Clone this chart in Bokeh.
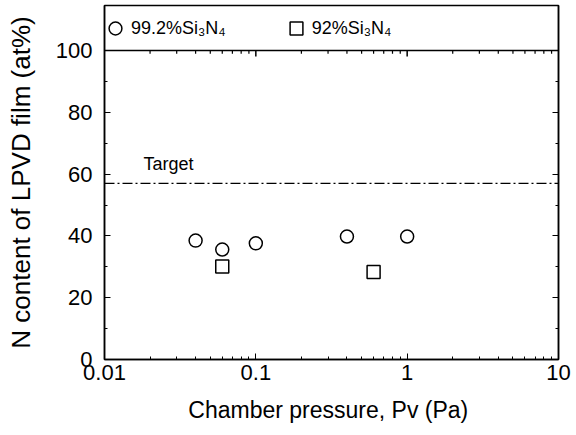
from bokeh.plotting import figure
from bokeh.models import (LinearAxis, FixedTicker, Span, Label,
                          Legend, LegendItem, Range1d, CustomJSTickFormatter)
from bokeh.embed import file_html
from bokeh.resources import INLINE

# N content of the deposited film versus chamber pressure
pressure_992 = [0.04, 0.06, 0.1, 0.4, 1.0]       # Pa, 99.2% Si3N4 target
n_content_992 = [38.5, 35.6, 37.6, 39.8, 39.8]    # at%
pressure_92 = [0.06, 0.6]                         # Pa, 92% Si3N4 target
n_content_92 = [30.1, 28.3]                       # at%
target_n = 57                                     # at%, stoichiometric target

y_major = [0, 20, 40, 60, 80, 100]
y_minor = [10, 30, 50, 70, 90]
x_major = [0.01, 0.1, 1, 10]
frame_top = 100                                   # legend sits above this line

FONT = "Liberation Sans"

p = figure(width=576, height=435, x_axis_type="log",
           x_range=Range1d(0.01, 10), y_range=Range1d(0, 114.6),
           output_backend="svg", toolbar_location=None,
           min_border_left=104, min_border_right=18,
           min_border_top=5, min_border_bottom=76)
p.grid.visible = False
p.background_fill_color = "white"
p.border_fill_color = "white"
p.outline_line_color = "black"
p.outline_line_width = 1.5

# bottom axis
xa = p.xaxis[0]
xa.ticker = FixedTicker(ticks=x_major,
                        minor_ticks=[m * d for d in (0.01, 0.1, 1) for m in range(2, 10)])
xa.major_label_overrides = {0.01: "0.01", 0.1: "0.1", 1: "1", 10: "10"}
xa.axis_label = "Chamber pressure, Pv  (Pa)"
xa.axis_label_text_font = FONT
xa.axis_label_text_font_size = "23px"
xa.axis_label_text_font_style = "normal"
xa.axis_label_text_color = "black"
xa.axis_label_standoff = 14
xa.major_tick_in = 6
xa.major_tick_out = 0
xa.minor_tick_in = 3
xa.minor_tick_out = 0
xa.axis_line_width = 1.5
xa.major_label_text_font = FONT
xa.major_label_text_font_size = "22px"
xa.major_label_text_color = "black"
xa.major_label_standoff = 5

# left axis
ya = p.yaxis[0]
ya.ticker = FixedTicker(ticks=y_major, minor_ticks=y_minor)
ya.axis_label = "N content of LPVD film (at%)"
ya.axis_label_text_font = FONT
ya.axis_label_text_font_size = "26px"
ya.axis_label_text_font_style = "normal"
ya.axis_label_text_color = "black"
ya.axis_label_standoff = 17
ya.major_tick_in = 6
ya.major_tick_out = 0
ya.minor_tick_in = 3
ya.minor_tick_out = 0
ya.axis_line_width = 1.5
ya.major_label_text_font = FONT
ya.major_label_text_font_size = "22px"
ya.major_label_text_color = "black"
ya.major_label_standoff = 12

# right axis: ticks only
ra = LinearAxis(ticker=FixedTicker(ticks=y_major, minor_ticks=y_minor),
                formatter=CustomJSTickFormatter(code="return ''"))
ra.major_tick_in = 6
ra.major_tick_out = 0
ra.minor_tick_in = 3
ra.minor_tick_out = 0
ra.axis_line_width = 1.5
p.add_layout(ra, "right")

# line closing off the legend panel, with inward ticks
p.add_layout(Span(location=frame_top, dimension="width",
                  line_color="black", line_width=1.5))
top_major = [0.1, 1]
top_minor = [m * d for d in (0.01, 0.1, 1) for m in range(2, 10)]
p.segment(x0=top_major, x1=top_major, y0=frame_top, y1=frame_top - 1.9,
          line_color="black", line_width=1.5)
p.segment(x0=top_minor, x1=top_minor, y0=frame_top, y1=frame_top - 1.0,
          line_color="black", line_width=1.2)

# target composition
p.add_layout(Span(location=target_n, dimension="width", line_color="black",
                  line_width=1.3, line_dash="10 3 2 3"))
p.add_layout(Label(x=x_major[0], y=target_n, x_offset=39, y_offset=9,
                   text="Target", text_font=FONT, text_font_size="18px",
                   text_baseline="bottom", text_align="left", text_color="black"))

r1 = p.scatter(pressure_992, n_content_992, marker="circle", size=13,
               fill_color="white", line_color="black", line_width=1.5)
r2 = p.scatter(pressure_92, n_content_92, marker="square", size=13,
               fill_color="white", line_color="black", line_width=1.5)

legend = Legend(items=[LegendItem(label="99.2%Si\u2083N\u2084", renderers=[r1]),
                       LegendItem(label="92%Si\u2083N\u2084", renderers=[r2])],
                orientation="horizontal", location=(-5, 315),
                margin=0, padding=0, spacing=54,
                glyph_width=32, glyph_height=32, label_height=32,
                label_standoff=0, border_line_color=None,
                background_fill_alpha=0,
                label_text_font=FONT, label_text_font_size="18px",
                label_text_color="black")
p.add_layout(legend)

open("out.html", "w").write(file_html(p, INLINE))
